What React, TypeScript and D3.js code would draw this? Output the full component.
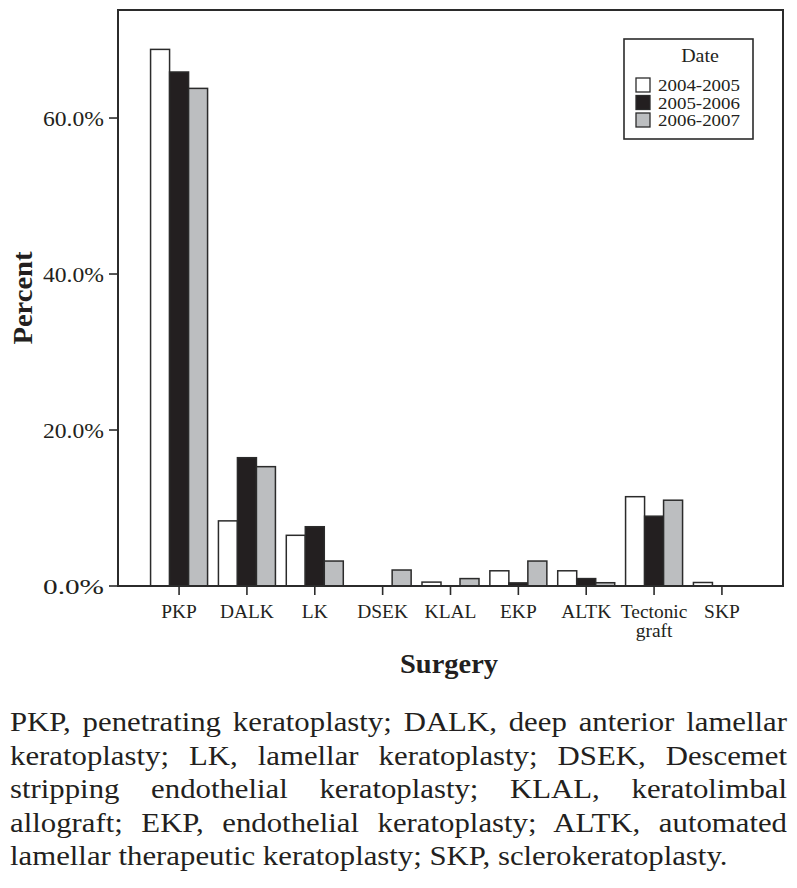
import React, { useEffect, useRef } from 'react';
import * as d3 from 'd3';

const categories = ['PKP', 'DALK', 'LK', 'DSEK', 'KLAL', 'EKP', 'ALTK', 'Tectonic graft', 'SKP'];
const seriesNames = ['2004-2005', '2005-2006', '2006-2007'];
const values2004 = [68.8, 8.35, 6.5, 0, 0.5, 1.95, 1.95, 11.45, 0.45];
const values2005 = [65.9, 16.45, 7.6, 0, 0, 0.4, 0.95, 8.95, 0];
const values2006 = [63.8, 15.3, 3.2, 2.05, 0.95, 3.2, 0.42, 11.0, 0];
const seriesValues = [values2004, values2005, values2006];
const seriesColors = ['#ffffff', '#231f20', '#bcbec0'];
const yTicks = [0, 20, 40, 60];
const yMax = 73.85;
const captionLines = [
  'PKP, penetrating keratoplasty; DALK, deep anterior lamellar',
  'keratoplasty; LK, lamellar keratoplasty; DSEK, Descemet',
  'stripping endothelial keratoplasty; KLAL, keratolimbal',
  'allograft; EKP, endothelial keratoplasty; ALTK, automated',
  'lamellar therapeutic keratoplasty; SKP, sclerokeratoplasty.',
];

const W = 797;
const H = 888;
const FONT = '"Liberation Serif", "Times New Roman", serif';
const WIDE = 1.08;

export default function App() {
  const ref = useRef<SVGSVGElement | null>(null);

  useEffect(() => {
    const svg = d3.select(ref.current);
    svg.selectAll('*').remove();

    const left = 118, right = 783, top = 10, bottom = 586;
    const x = d3.scalePoint<string>().domain(categories).range([left, right]).padding(0.9);
    const y = d3.scaleLinear().domain([0, yMax]).range([bottom, top]);
    const groupW = 57;
    const xs = d3.scaleBand<string>().domain(seriesNames).range([-groupW / 2, groupW / 2]).padding(0);

    const stroke = '#2b2b2b';

    const wideText = (parent: any, tx: number, ty: number, size: number, anchor: string, str: string) =>
      parent.append('text')
        .attr('transform', `translate(${tx},${ty}) scale(${WIDE},1)`)
        .attr('text-anchor', anchor)
        .attr('font-family', FONT).attr('font-size', size)
        .attr('fill', '#231f20')
        .text(str);

    // bars
    const g = svg.append('g');
    seriesNames.forEach((s, si) => {
      categories.forEach((c, ci) => {
        const v = seriesValues[si][ci];
        if (v <= 0) return;
        const x0 = (x(c) as number) + (xs(s) as number);
        g.append('rect')
          .attr('x', x0)
          .attr('y', y(v))
          .attr('width', xs.bandwidth())
          .attr('height', bottom - y(v))
          .attr('fill', seriesColors[si])
          .attr('stroke', stroke)
          .attr('stroke-width', 1.5);
      });
    });

    // frame
    svg.append('rect')
      .attr('x', left).attr('y', top)
      .attr('width', right - left).attr('height', bottom - top)
      .attr('fill', 'none').attr('stroke', stroke).attr('stroke-width', 2);

    // y ticks
    const yg = svg.append('g');
    yTicks.forEach((t) => {
      yg.append('line')
        .attr('x1', left - 9).attr('x2', left)
        .attr('y1', y(t)).attr('y2', y(t))
        .attr('stroke', stroke).attr('stroke-width', 1.6);
      yg.append('text')
        .attr('x', left - 14).attr('y', y(t) + 7.5)
        .attr('text-anchor', 'end')
        .attr('font-family', FONT).attr('font-size', 21)
        .attr('fill', '#231f20')
        .attr('textLength', 61).attr('lengthAdjust', 'spacingAndGlyphs')
        .text(d3.format('.1f')(t) + '%');
    });

    // x ticks
    const xg = svg.append('g');
    categories.forEach((c) => {
      const cx = x(c) as number;
      xg.append('line')
        .attr('x1', cx).attr('x2', cx)
        .attr('y1', bottom).attr('y2', bottom + 9)
        .attr('stroke', stroke).attr('stroke-width', 1.6);
      const parts = c.split(' ');
      parts.forEach((p, i) => {
        wideText(xg, cx, 618 + i * 18.5, 18, 'middle', p);
      });
    });

    // axis titles
    svg.append('text')
      .attr('x', 449).attr('y', 673)
      .attr('text-anchor', 'middle')
      .attr('font-family', FONT).attr('font-size', 27).attr('font-weight', 'bold')
      .attr('fill', '#231f20')
      .attr('textLength', 98).attr('lengthAdjust', 'spacingAndGlyphs')
      .text('Surgery');
    svg.append('text')
      .attr('transform', `translate(32,${(top + bottom) / 2}) rotate(-90)`)
      .attr('text-anchor', 'middle')
      .attr('font-family', FONT).attr('font-size', 27).attr('font-weight', 'bold')
      .attr('fill', '#231f20')
      .attr('textLength', 93).attr('lengthAdjust', 'spacingAndGlyphs')
      .text('Percent');

    // legend
    const lg = svg.append('g');
    lg.append('rect')
      .attr('x', 624).attr('y', 39).attr('width', 129).attr('height', 100)
      .attr('fill', '#fff').attr('stroke', stroke).attr('stroke-width', 1.6);
    wideText(lg, 700, 62, 18.5, 'middle', 'Date');
    seriesNames.forEach((s, i) => {
      const ry = 78 + i * 17.5;
      lg.append('rect')
        .attr('x', 636).attr('y', ry).attr('width', 14).attr('height', 14)
        .attr('fill', seriesColors[i]).attr('stroke', stroke).attr('stroke-width', 1.3);
      lg.append('text')
        .attr('x', 658).attr('y', ry + 13)
        .attr('font-family', FONT).attr('font-size', 16)
        .attr('fill', '#231f20')
        .attr('textLength', 82).attr('lengthAdjust', 'spacingAndGlyphs')
        .text(s);
    });

    // caption (justified)
    const cg = svg.append('g');
    const baselines = [731, 764.5, 798, 831.5, 865];
    const probe = cg.append('text')
      .attr('font-family', FONT).attr('font-size', 27)
      .text(captionLines[captionLines.length - 1]);
    const lastNatural = (probe.node() as SVGTextElement).getComputedTextLength();
    probe.remove();
    const ratio = 718 / lastNatural;
    captionLines.forEach((line, i) => {
      const t = cg.append('text')
        .attr('transform', `translate(10,${baselines[i]}) scale(${ratio},1)`)
        .attr('font-family', FONT).attr('font-size', 27)
        .attr('fill', '#231f20')
        .text(line);
      if (i < captionLines.length - 1) {
        const node = t.node() as SVGTextElement;
        const natural = node.getComputedTextLength();
        const spaces = (line.match(/ /g) || []).length;
        if (spaces > 0) {
          t.attr('word-spacing', (777 / ratio - natural) / spaces);
        }
      }
    });
  }, []);

  return (
    <svg
      ref={ref}
      width={W}
      height={H}
      viewBox={`0 0 ${W} ${H}`}
      style={{ position: 'absolute', left: 0, top: 0, background: '#fff' }}
    />
  );
}
